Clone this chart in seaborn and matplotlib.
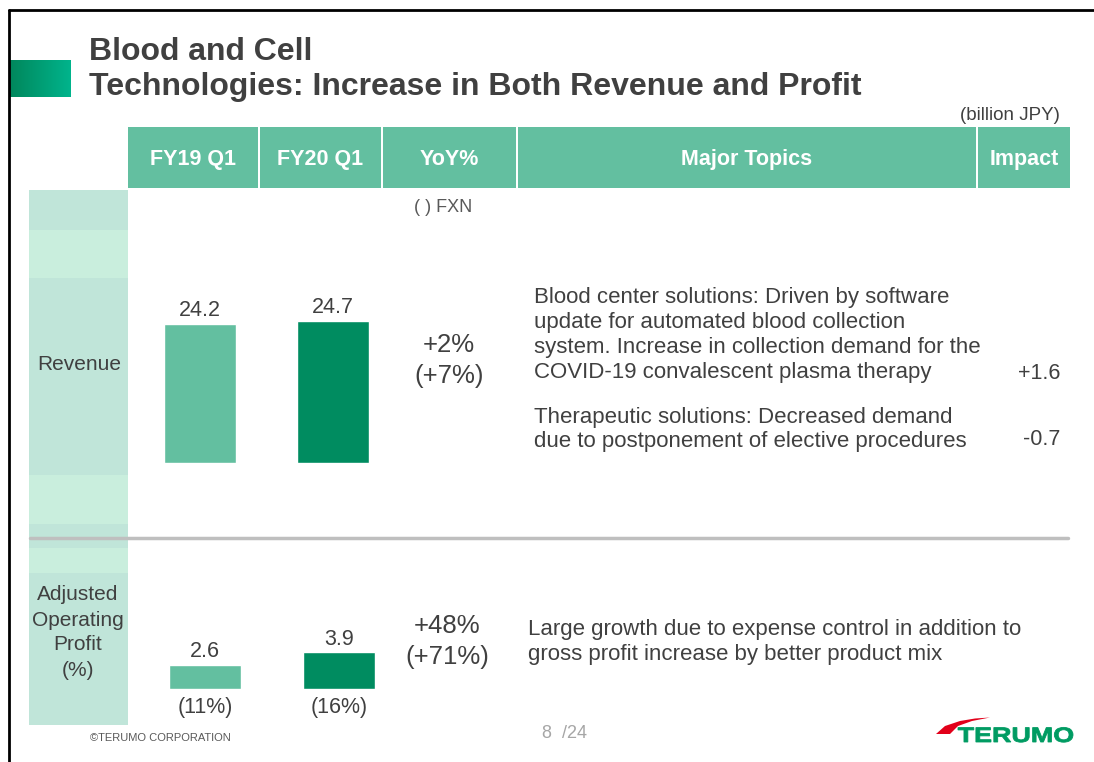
import numpy as np
import matplotlib
matplotlib.use("Agg")
import matplotlib.pyplot as plt
from matplotlib.patches import Rectangle, Polygon, PathPatch
from matplotlib.textpath import TextPath
from matplotlib.font_manager import FontProperties
from matplotlib.transforms import Affine2D
import seaborn as sns

# data (billion JPY)
periods = ["FY19 Q1", "FY20 Q1"]
revenue = [24.2, 24.7]
op_profit = [2.6, 3.9]
op_margin = ["(11%)", "(16%)"]
revenue_yoy = ["+2%", "(+7%)"]
profit_yoy = ["+48%", "(+71%)"]
header_labels = ["FY19 Q1", "FY20 Q1", "YoY%", "Major Topics", "Impact"]
revenue_topics = [
    "Blood center solutions: Driven by software",
    "update for automated blood collection",
    "system. Increase in collection demand for the",
    "COVID-19 convalescent plasma therapy",
    "Therapeutic solutions: Decreased demand",
    "due to postponement of elective procedures",
]
revenue_impact = ["+1.6", "-0.7"]
profit_topics = [
    "Large growth due to expense control in addition to",
    "gross profit increase by better product mix",
]

LIGHT = "#63bfa0"
DARK = "#008c60"
TXT = "#404040"
STRIPE_A = "#c0e5d9"
STRIPE_B = "#c9eedd"

sns.set_theme(style="white")
plt.rcParams["font.family"] = ["Liberation Sans", "DejaVu Sans"]

W, H = 1094, 762
fig = plt.figure(figsize=(W / 100, H / 100), dpi=100)
fig.patch.set_facecolor("white")

bg = fig.add_axes([0, 0, 1, 1])
bg.set_xlim(0, W)
bg.set_ylim(H, 0)
bg.axis("off")


def px_axes(x0, y0, x1, y1):
    ax = fig.add_axes([x0 / W, 1 - y1 / H, (x1 - x0) / W, (y1 - y0) / H])
    ax.set_facecolor("none")
    return ax


# frame
bg.plot([9, 9], [10, H], color="black", lw=2)
bg.plot([9, W], [10, 10], color="black", lw=2)

# title block
grad = np.linspace(0, 1, 100).reshape(1, -1)
cmap = matplotlib.colors.LinearSegmentedColormap.from_list("g", ["#00875c", "#00b48c"])
bg.imshow(grad, cmap=cmap, extent=[10, 71, 97, 60], aspect="auto")
bg.set_xlim(0, W)
bg.set_ylim(H, 0)
bg.text(89, 60, "Blood and Cell", fontsize=23, fontweight="bold", color=TXT, va="baseline")
bg.text(89, 95, "Technologies: Increase in Both Revenue and Profit", fontsize=23,
        fontweight="bold", color=TXT, va="baseline")
bg.text(1060, 115, "(billion JPY)", fontsize=13.5, color=TXT, ha="right", va="center")

# header row
cells = [(128, 258), (260, 381), (383, 516), (518, 976), (978, 1070)]
for (x0, x1), lab in zip(cells, header_labels):
    bg.add_patch(Rectangle((x0, 127), x1 - x0, 61, color=LIGHT, lw=0))
    bg.text((x0 + x1) / 2, 165, lab, fontsize=15.5, fontweight="bold", color="white",
            ha="center", va="baseline")

# left label column
stripes = [(190, 230, STRIPE_A), (230, 278, STRIPE_B), (278, 475, STRIPE_A),
           (475, 524, STRIPE_B), (524, 548, STRIPE_A), (548, 573, STRIPE_B),
           (573, 725, STRIPE_A)]
for y0, y1, c in stripes:
    bg.add_patch(Rectangle((29, y0), 99, y1 - y0, color=c, lw=0))
bg.text(79, 364, "Revenue", fontsize=15, color=TXT, ha="center", va="center")
for y, s in zip([595, 620, 645, 671], ["Adjusted", "Operating", "Profit", "(%)"]):
    bg.text(78, y, s, fontsize=15, color=TXT, ha="center", va="center")

bg.plot([30, 1068], [538, 538], color="#bfbfbf", lw=2.5)
bg.text(443, 208, "( ) FXN", fontsize=13, color="#595959", ha="center", va="center")

# revenue bars
rev_scale = 142 / 24.7
ax_r = px_axes(133, 280, 400, 463)
sns.barplot(x=periods, y=revenue, hue=periods, palette=[LIGHT, DARK], saturation=1,
            width=72 / 133.5, legend=False, ax=ax_r)
ax_r.set_xlim(-0.5, 1.5)
ax_r.set_ylim(0, 183 / rev_scale)
for c in ax_r.containers:
    ax_r.bar_label(c, fmt="%.1f", padding=2, fontsize=15.5, color=TXT)
ax_r.axis("off")

# operating profit bars
op_scale = 9.4
ax_p = px_axes(138, 600, 406, 689)
sns.barplot(x=periods, y=op_profit, hue=periods, palette=[LIGHT, DARK], saturation=1,
            width=72 / 134, legend=False, ax=ax_p)
ax_p.set_xlim(-0.5, 1.5)
ax_p.set_ylim(0, 89 / op_scale)
for c in ax_p.containers:
    ax_p.bar_label(c, fmt="%.1f", padding=1.5, fontsize=15.5, color=TXT)
for i, m in enumerate(op_margin):
    ax_p.annotate(m, xy=(i, 0), xytext=(0, -6), textcoords="offset points",
                  ha="center", va="top", fontsize=15.5, color=TXT)
ax_p.axis("off")

# YoY columns
for y, s in zip([352, 383], revenue_yoy):
    bg.text(449, y, s, fontsize=18.5, color=TXT, ha="center", va="baseline")
for y, s in zip([633, 664], profit_yoy):
    bg.text(447, y, s, fontsize=18.5, color=TXT, ha="center", va="baseline")

# topics and impact
for y, s in zip([303, 328, 353, 378, 423, 447], revenue_topics):
    bg.text(534, y, s, fontsize=16, color=TXT, va="baseline")
for y, s in zip([379, 445], revenue_impact):
    bg.text(1060, y, s, fontsize=15.5, color=TXT, ha="right", va="baseline")
for y, s in zip([635, 660], profit_topics):
    bg.text(528, y, s, fontsize=16, color=TXT, va="baseline")

# footer
bg.text(90, 738, "\u00a9TERUMO CORPORATION", fontsize=8, color="#595959", va="center")
bg.text(565, 733, "8  /24", fontsize=13, color="#a6a6a6", ha="center", va="center")

# logo
bg.add_patch(Polygon([(936, 734), (945, 726), (960, 721), (975, 718.5), (990, 717.5),
                      (972, 721), (958, 726), (950, 734)], color="#e2001a", lw=0))
tp = TextPath((0, 0), "TERUMO", size=1, prop=FontProperties(family="Liberation Sans", weight="bold"))
ext = tp.get_extents()
sx = 115 / ext.width
sy = 15 / 0.716
bg.add_patch(PathPatch(tp, color="#009b62", lw=0.6,
                       transform=Affine2D().translate(-ext.x0, 0).scale(sx, -sy).translate(958, 742) + bg.transData))

fig.savefig("out.png", dpi=100)
